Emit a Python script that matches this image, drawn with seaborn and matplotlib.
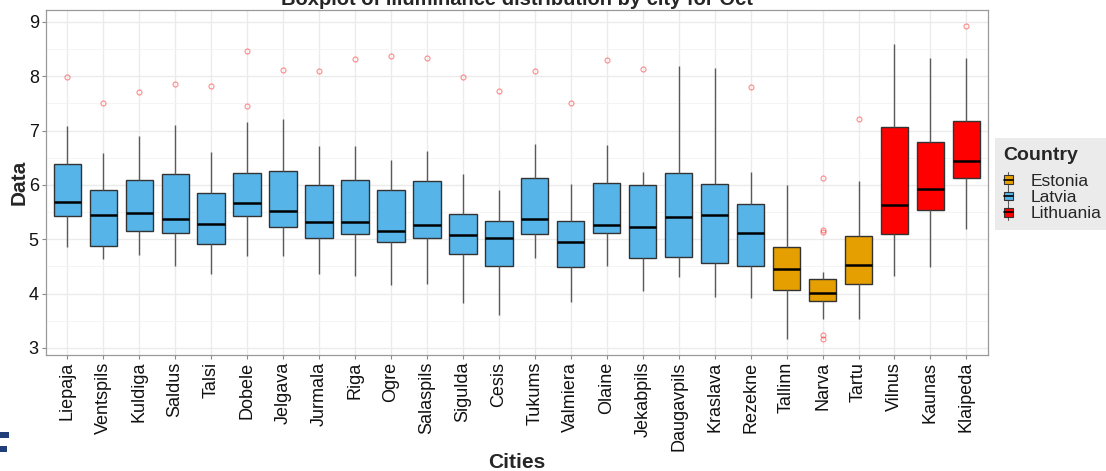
import numpy as np
import pandas as pd
import seaborn as sns
import matplotlib
matplotlib.use("Agg")
import matplotlib.pyplot as plt
from matplotlib.patches import Rectangle, Patch
from matplotlib.lines import Line2D
from matplotlib.legend_handler import HandlerBase

# Monthly illuminance summary per city (October)
cities = ["Liepaja", "Ventspils", "Kuldiga", "Saldus", "Talsi", "Dobele", "Jelgava",
          "Jurmala", "Riga", "Ogre", "Salaspils", "Sigulda", "Cesis", "Tukums",
          "Valmiera", "Olaine", "Jekabpils", "Daugavpils", "Kraslava", "Rezekne",
          "Tallinn", "Narva", "Tartu", "Vilnus", "Kaunas", "Klaipeda"]
countries = ["Latvia"] * 20 + ["Estonia"] * 3 + ["Lithuania"] * 3

whisker_low = [4.85, 4.64, 4.71, 4.50, 4.36, 4.69, 4.69, 4.36, 4.33, 4.15, 4.17, 3.83, 3.61,
               4.66, 3.85, 4.50, 4.04, 4.30, 3.93, 3.91, 3.16, 3.53, 3.53, 4.33, 4.49, 5.18]
q1 = [5.42, 4.87, 5.15, 5.12, 4.92, 5.43, 5.23, 5.03, 5.09, 4.95, 5.02, 4.72, 4.51,
      5.09, 4.49, 5.11, 4.65, 4.68, 4.57, 4.50, 4.06, 3.87, 4.17, 5.09, 5.53, 6.12]
median = [5.68, 5.44, 5.49, 5.37, 5.28, 5.66, 5.52, 5.32, 5.31, 5.15, 5.26, 5.08, 5.02,
          5.38, 4.95, 5.26, 5.22, 5.41, 5.45, 5.12, 4.46, 4.01, 4.53, 5.63, 5.93, 6.44]
q3 = [6.39, 5.90, 6.09, 6.20, 5.86, 6.22, 6.25, 5.99, 6.09, 5.91, 6.07, 5.47, 5.34,
      6.12, 5.33, 6.03, 6.00, 6.22, 6.02, 5.65, 4.85, 4.27, 5.06, 7.07, 6.79, 7.17]
whisker_high = [7.09, 6.58, 6.90, 7.10, 6.60, 7.16, 7.22, 6.71, 6.71, 6.46, 6.63, 6.21, 5.91,
                6.76, 6.02, 6.74, 6.23, 8.19, 8.15, 6.24, 6.00, 4.39, 6.07, 8.60, 8.33, 8.33]
outliers = [[7.98], [7.50], [7.71], [7.85], [7.82], [8.46, 7.46], [8.12], [8.09], [8.31],
            [8.37], [8.33], [7.98], [7.73], [8.10], [7.50], [8.30], [8.14], [], [], [7.80],
            [], [6.13, 5.17, 5.14, 3.24, 3.16], [7.22], [], [], [8.93]]

country_order = ["Estonia", "Latvia", "Lithuania"]
country_colors = {"Estonia": "#E69F00", "Latvia": "#56B4E9", "Lithuania": "#FF0000"}

# Expand each summary into observations whose quartiles reproduce it exactly
rows = []
for city, country, lo, a, m, b, hi, fl in zip(cities, countries, whisker_low, q1, median,
                                             q3, whisker_high, outliers):
    values = [lo] + [a] * 20 + [m] * 20 + [b] * 20 + [hi] + list(fl)
    rows.extend((city, country, v) for v in values)
df = pd.DataFrame(rows, columns=["City", "Country", "Data"])

sns.set_theme(style="whitegrid")
plt.rcParams["font.family"] = ["Liberation Sans", "DejaVu Sans"]

fig = plt.figure(figsize=(11.06, 4.71), dpi=100)
ax = fig.add_axes([45.7 / 1106, 1 - 355 / 471, (988 - 45.7) / 1106, (355 - 10) / 471])
ax.set_facecolor("white")

sns.boxplot(
    data=df, x="City", y="Data", hue="Country", order=cities, hue_order=country_order,
    palette=country_colors, saturation=1, dodge=False, width=0.76, ax=ax,
    linecolor="#333333", linewidth=1.0, showcaps=False,
    flierprops=dict(marker="o", markerfacecolor="none", markeredgecolor="red",
                    markersize=3.6, markeredgewidth=0.8, alpha=0.45),
    medianprops=dict(color="black", linewidth=1.8),
    whiskerprops=dict(color="#5a5a5a", linewidth=1.0),
    boxprops=dict(edgecolor="#333333"),
)

ax.set_xlim(-0.6, len(cities) - 0.4)
ax.set_ylim(2.87, 9.22)
ax.set_yticks([3, 4, 5, 6, 7, 8, 9])
ax.set_yticks(np.arange(3.5, 9.0, 1.0), minor=True)

ax.grid(True, which="major", color="#EBEBEB", linewidth=1.0)
ax.grid(True, which="minor", axis="y", color="#F3F3F3", linewidth=0.6)
ax.set_axisbelow(True)
for side in ax.spines.values():
    side.set_color("#9a9a9a")
    side.set_linewidth(0.9)

ax.tick_params(axis="both", which="major", length=3, width=0.8, color="#888888",
               labelsize=13, labelcolor="#111111", pad=2, bottom=True, left=True)
ax.tick_params(axis="both", which="minor", length=0)
plt.setp(ax.get_xticklabels(), rotation=90)

ax.set_xlabel("Cities", fontsize=15, fontweight="bold", labelpad=1.5)
ax.set_ylabel("Data", fontsize=15, fontweight="bold", labelpad=0)

fig.text((45.7 + 988) / 2 / 1106, 1 - 5 / 471,
         "Boxplot of illuminance distribution by city for Oct",
         ha="center", va="baseline", fontsize=14.5, fontweight="bold")


class BoxKey(HandlerBase):
    def create_artists(self, legend, orig_handle, xdescent, ydescent, width, height,
                       fontsize, trans):
        fc = orig_handle.get_facecolor()
        x0, y0 = -xdescent, -ydescent
        cx = x0 + width / 2
        stem = Line2D([cx, cx], [y0 - 1, y0 + height + 1], color="#5a5a5a", lw=0.8,
                      transform=trans)
        box = Rectangle((x0, y0 + height * 0.15), width, height * 0.7, facecolor=fc,
                        edgecolor="#333333", lw=0.8, transform=trans)
        med = Line2D([x0, x0 + width], [y0 + height / 2] * 2, color="black", lw=1.2,
                     transform=trans)
        return [stem, box, med]


if ax.get_legend() is not None:
    ax.get_legend().remove()
handles = [Patch(facecolor=country_colors[c], label=c) for c in country_order]
leg = fig.legend(handles=handles, labels=country_order, title="Country",
                 loc="upper left", bbox_to_anchor=(995 / 1106, 1 - 138 / 471),
                 bbox_transform=fig.transFigure, handler_map={Patch: BoxKey()},
                 fontsize=12.5, title_fontsize=14, frameon=True, fancybox=False,
                 borderpad=0.5, labelspacing=0.05, handlelength=0.55, handleheight=0.75,
                 handletextpad=1.0, borderaxespad=0)
leg.get_title().set_fontweight("bold")
leg._legend_box.align = "left"
leg._legend_box.sep = 7
leg.get_frame().set_facecolor("#E6E6E6")
leg.get_frame().set_edgecolor("none")

# Corner brand mark
fig.patches.append(Rectangle((0, 1 - 438 / 471), 9 / 1106, 6 / 471, transform=fig.transFigure,
                             facecolor="#1F3E7A", edgecolor="none"))
fig.patches.append(Rectangle((0, 1 - 452 / 471), 7 / 1106, 6 / 471, transform=fig.transFigure,
                             facecolor="#1F3E7A", edgecolor="none"))

fig.savefig("out.png", dpi=100, facecolor="white")
